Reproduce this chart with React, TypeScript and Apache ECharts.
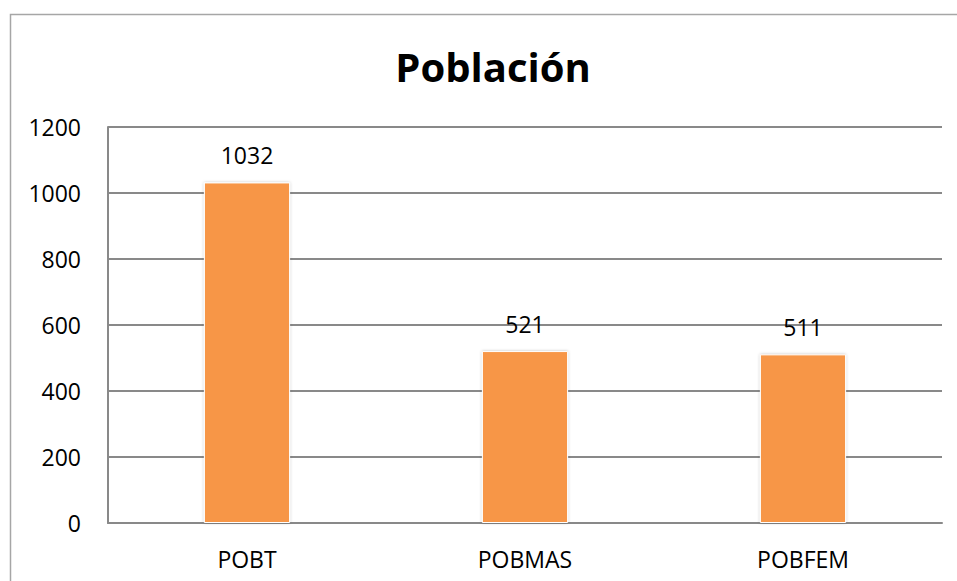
import React, { useEffect, useRef } from "react";
import * as echarts from "echarts";

const titleText = "Población";
const categories = ["POBT", "POBMAS", "POBFEM"];
const values = [1032, 521, 511];
const yMin = 0;
const yMax = 1200;
const yStep = 200;

export default function App() {
  const ref = useRef<HTMLDivElement>(null);
  useEffect(() => {
    if (!ref.current) return;
    const chart = echarts.init(ref.current, null, { renderer: "svg" });
    const font = "'Open Sans', 'Liberation Sans', sans-serif";
    chart.setOption({
      animation: false,
      backgroundColor: "#ffffff",
      title: {
        text: titleText,
        left: 488,
        top: 41,
        textAlign: "center",
        textStyle: { fontFamily: font, fontSize: 40, fontWeight: "bold", color: "#000" },
      },
      graphic: [
        {
          type: "rect",
          shape: { x: 10.5, y: 14.5, width: 1000, height: 700 },
          style: { fill: "none", stroke: "#a6a6a6", lineWidth: 1.5 },
          silent: true,
          z: -10,
        },
      ],
      grid: { left: 108, right: 15, top: 127, bottom: 58, containLabel: false },
      xAxis: {
        type: "category",
        data: categories,
        axisLine: { show: true, lineStyle: { color: "#898989", width: 2 } },
        axisTick: { show: false },
        axisLabel: { fontFamily: font, fontSize: 23, color: "#000", margin: 24 },
      },
      yAxis: {
        type: "value",
        min: yMin,
        max: yMax,
        interval: yStep,
        axisLine: { show: true, lineStyle: { color: "#898989", width: 2 } },
        axisTick: { show: false },
        splitLine: { show: true, lineStyle: { color: "#898989", width: 2 } },
        axisLabel: {
          fontFamily: font,
          fontSize: 23,
          color: "#000",
          margin: 27,
          formatter: (v: number) => String(v),
        },
      },
      series: [
        {
          type: "bar",
          data: values,
          barWidth: "31%",
          itemStyle: {
            color: "#F79646",
            borderColor: "#ffffff",
            borderWidth: 1,
            shadowBlur: 3,
            shadowColor: "rgba(0,0,0,0.25)",
          },
          label: {
            show: true,
            position: "top",
            distance: 16,
            fontFamily: font,
            fontSize: 23,
            color: "#000",
          },
        },
      ],
    });
    return () => chart.dispose();
  }, []);
  return (
    <div
      ref={ref}
      style={{ position: "fixed", left: 0, top: 0, width: 957, height: 581 }}
    />
  );
}
